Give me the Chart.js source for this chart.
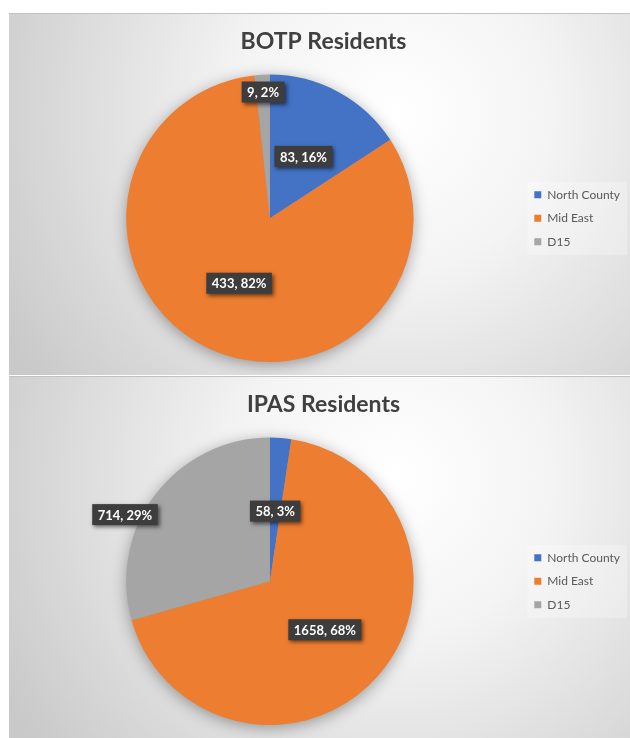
<!DOCTYPE html>
<html>
<head>
<meta charset="utf-8">
<script src="https://cdn.jsdelivr.net/npm/chart.js@4.4.1/dist/chart.umd.min.js"></script>
<style>
    body { margin: 0; background: #ffffff; }
    .painel { position: absolute; left: 9px; width: 621px; height: 362px; }
    #painelBotp { top: 13px; }
    #painelIpas { top: 376px; }
</style>
</head>
<body>
<div class="painel" id="painelBotp"><canvas id="botpChart"></canvas></div>
<div class="painel" id="painelIpas"><canvas id="ipasChart"></canvas></div>
<script>
const regions = ['North County', 'Mid East', 'D15'];
const regionColors = ['#4472C4', '#ED7D31', '#A5A5A5'];

const botpValues = [83, 433, 9];
const botpPercent = ['16%', '82%', '2%'];

const ipasValues = [58, 1658, 714];
const ipasPercent = ['3%', '68%', '29%'];

const fontFamily = 'Lato, "Open Sans", sans-serif';

// fundo cinza em gradiente com a linha de borda superior
const panelBackground = {
    id: 'panelBackground',
    beforeDraw(chart) {
        const { ctx, width, height } = chart;
        const grad = ctx.createRadialGradient(width * 0.62, height * 0.28, 0, width * 0.62, height * 0.28, width * 0.72);
        grad.addColorStop(0, '#ffffff');
        grad.addColorStop(0.35, '#f4f4f4');
        grad.addColorStop(1, '#c9c9c9');
        ctx.save();
        ctx.fillStyle = grad;
        ctx.fillRect(0, 0, width, height);
        ctx.fillStyle = '#c2c2c2';
        ctx.fillRect(0, 0, width, 1);

        // caixa clara atras da legenda
        const boxes = chart.legend.legendHitBoxes;
        if (boxes && boxes.length) {
            const first = boxes[0];
            const last = boxes[boxes.length - 1];
            ctx.fillStyle = 'rgba(255,255,255,0.28)';
            ctx.fillRect(first.left - 7, first.top - 7, chart.legend.right - first.left + 4, last.top + last.height - first.top + 14);
        }
        ctx.restore();
    }
};

// sombra suave em volta da pizza
const pieShadow = {
    id: 'pieShadow',
    beforeDatasetsDraw(chart) {
        const arc = chart.getDatasetMeta(0).data[0];
        if (!arc) return;
        const { x, y, outerRadius } = arc.getProps(['x', 'y', 'outerRadius'], true);
        const ctx = chart.ctx;
        ctx.save();
        ctx.shadowColor = 'rgba(0,0,0,0.38)';
        ctx.shadowBlur = 16;
        ctx.shadowOffsetY = 3;
        ctx.fillStyle = '#999999';
        ctx.beginPath();
        ctx.arc(x, y, outerRadius - 1, 0, Math.PI * 2);
        ctx.fill();
        ctx.restore();
    }
};

// rotulos "valor, %" em caixa escura
const sliceLabels = {
    id: 'sliceLabels',
    afterDatasetsDraw(chart, args, opts) {
        const ctx = chart.ctx;
        const values = chart.data.datasets[0].data;
        chart.getDatasetMeta(0).data.forEach((arc, i) => {
            const { x, y, startAngle, endAngle, outerRadius } =
                arc.getProps(['x', 'y', 'startAngle', 'endAngle', 'outerRadius'], true);
            const mid = (startAngle + endAngle) / 2 + (opts.shift[i] || 0) * Math.PI / 180;
            const dist = outerRadius * opts.radius[i];
            const cx = x + Math.cos(mid) * dist;
            const cy = y + Math.sin(mid) * dist;
            const text = values[i] + ', ' + opts.percent[i];

            ctx.save();
            ctx.font = 'bold 13px ' + fontFamily;
            const w = ctx.measureText(text).width + 11;
            const h = 21;
            ctx.shadowColor = 'rgba(0,0,0,0.55)';
            ctx.shadowBlur = 4;
            ctx.shadowOffsetX = 2;
            ctx.shadowOffsetY = 2;
            ctx.fillStyle = '#3d3d3d';
            ctx.fillRect(cx - w / 2, cy - h / 2, w, h);
            ctx.shadowColor = 'transparent';
            ctx.fillStyle = '#ffffff';
            ctx.textAlign = 'center';
            ctx.textBaseline = 'middle';
            ctx.fillText(text, cx, cy + 1);
            ctx.restore();
        });
    }
};

function makePie(canvasId, title, values, percent, radius, shift) {
    const ctx = document.getElementById(canvasId).getContext('2d');
    return new Chart(ctx, {
        type: 'pie',
        data: {
            labels: regions,
            datasets: [{
                data: values,
                backgroundColor: regionColors,
                borderWidth: 0
            }]
        },
        options: {
            responsive: true,
            maintainAspectRatio: false,
            animation: false,
            events: [],
            layout: {
                padding: { left: 8, right: 0, top: 0, bottom: 13 }
            },
            plugins: {
                title: {
                    display: true,
                    text: title,
                    color: '#404040',
                    font: { family: fontFamily, size: 23, weight: 'bold' },
                    padding: { top: 15, bottom: 19 }
                },
                legend: {
                    position: 'right',
                    fullSize: false,
                    labels: {
                        boxWidth: 7,
                        boxHeight: 7,
                        padding: 11.5,
                        color: '#595959',
                        font: { family: fontFamily, size: 12 }
                    }
                },
                tooltip: { enabled: false },
                sliceLabels: { percent: percent, radius: radius, shift: shift }
            }
        },
        plugins: [panelBackground, pieShadow, sliceLabels]
    });
}

makePie('botpChart', 'BOTP Residents', botpValues, botpPercent, [0.49, 0.5, 0.88], [0, 0, 0]);
makePie('ipasChart', 'IPAS Residents', ipasValues, ipasPercent, [0.49, 0.51, 1.11], [0, 0, -12.4]);
</script>
</body>
</html>
